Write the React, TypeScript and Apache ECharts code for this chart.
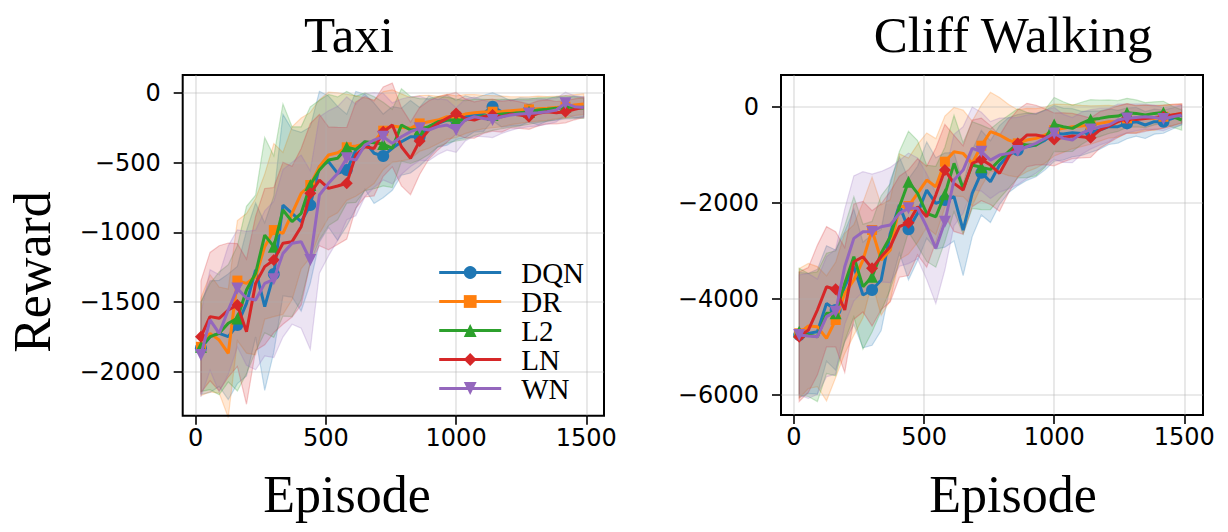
import React, { useEffect, useRef } from "react";
import * as echarts from "echarts";

// ---------- data ----------
const episodes = [20, 55, 90, 125, 160, 195, 230, 265, 300, 335, 370, 405, 440, 475, 510, 545, 580, 615, 650, 685, 720, 755, 790, 825, 860, 895, 930, 965, 1000, 1035, 1070, 1105, 1140, 1175, 1210, 1245, 1280, 1315, 1350, 1385, 1420, 1455, 1490];

const methods = ["DQN", "DR", "L2", "LN", "WN"];
const colors = ["#1f77b4", "#ff7f0e", "#2ca02c", "#d62728", "#9467bd"];
const symbols = ["circle", "rect", "triangle", "diamond", "triangle"];
const symbolRotates = [0, 0, 0, 0, 180];
const symbolSizes = [12, 10, 12, 12, 12];

const xTicks = [0, 500, 1000, 1500];
const taxiYTicks = [-2000, -1500, -1000, -500, 0];
const cliffYTicks = [-6000, -4000, -2000, 0];

// Taxi mean reward
const taxiDQN = [-1831, -1748, -1724, -1748, -1664, -1509, -1270, -1533, -1299, -805, -864, -924, -805, -530, -494, -578, -554, -411, -351, -434, -453, -399, -351, -315, -315, -243, -220, -196, -196, -172, -160, -148, -100, -136, -148, -136, -124, -136, -124, -112, -112, -105, -100];
const taxiDR = [-1820, -1724, -1772, -1867, -1346, -1366, -1318, -1103, -984, -1008, -864, -721, -661, -530, -446, -430, -391, -382, -368, -351, -272, -239, -248, -255, -220, -208, -196, -172, -172, -153, -143, -138, -136, -134, -129, -124, -119, -114, -112, -105, -100, -88, -81];
const taxiL2 = [-1820, -1748, -1724, -1652, -1617, -1414, -1294, -1020, -1103, -840, -924, -864, -661, -554, -482, -470, -391, -406, -351, -358, -368, -399, -231, -267, -262, -243, -208, -196, -196, -196, -177, -167, -160, -153, -148, -143, -136, -124, -119, -112, -100, -105, -112];
const taxiLN = [-1748, -1604, -1616, -1557, -1521, -1712, -1366, -1246, -1199, -1079, -1067, -960, -721, -626, -685, -668, -649, -446, -387, -399, -279, -231, -387, -470, -346, -267, -220, -184, -148, -184, -196, -172, -160, -172, -153, -160, -172, -148, -136, -143, -136, -119, -105];
const taxiWN = [-1879, -1628, -1724, -1557, -1402, -1473, -1485, -1366, -1337, -1151, -1079, -1067, -1199, -733, -649, -578, -470, -482, -375, -339, -315, -363, -315, -279, -255, -267, -243, -231, -267, -196, -172, -184, -196, -172, -160, -153, -148, -143, -136, -124, -76, -100, -105];

// Taxi half-width of shaded band
const taxiDQNSpread = [330, 400, 380, 450, 420, 520, 480, 600, 560, 650, 600, 640, 560, 540, 470, 480, 400, 420, 340, 360, 300, 300, 240, 260, 210, 220, 170, 180, 140, 150, 120, 130, 100, 110, 90, 100, 85, 95, 80, 85, 75, 80, 70];
const taxiDRSpread = [350, 420, 380, 460, 430, 500, 560, 520, 620, 580, 620, 540, 520, 480, 450, 430, 380, 360, 330, 300, 280, 260, 240, 220, 200, 190, 170, 160, 150, 140, 130, 120, 115, 110, 100, 95, 90, 90, 85, 80, 80, 75, 75];
const taxiL2Spread = [320, 380, 440, 420, 520, 600, 560, 700, 650, 760, 680, 620, 560, 500, 470, 440, 400, 380, 350, 330, 300, 280, 260, 240, 220, 200, 180, 165, 150, 140, 130, 120, 110, 105, 100, 95, 90, 88, 85, 80, 78, 75, 72];
const taxiLNSpread = [400, 460, 520, 480, 440, 520, 480, 560, 520, 580, 540, 560, 500, 470, 440, 420, 400, 380, 360, 340, 320, 300, 280, 260, 240, 210, 190, 170, 150, 140, 130, 120, 115, 110, 100, 95, 90, 90, 85, 80, 80, 75, 72];
const taxiWNSpread = [300, 360, 420, 460, 420, 480, 500, 520, 560, 600, 580, 620, 640, 560, 520, 480, 440, 400, 370, 340, 310, 290, 270, 250, 230, 220, 200, 180, 160, 150, 140, 130, 125, 120, 110, 100, 95, 95, 90, 85, 80, 78, 75];

// Cliff Walking mean reward
const cliffDQN = [-4750, -4716, -4681, -4092, -4230, -3745, -3329, -3918, -3814, -3606, -2635, -2046, -2552, -2219, -1734, -2011, -1942, -1873, -2566, -1803, -1373, -1560, -1214, -1006, -902, -832, -797, -694, -555, -569, -541, -555, -520, -485, -416, -416, -347, -312, -381, -312, -312, -243, -173];
const cliffDR = [-4716, -4563, -4577, -4820, -4438, -3884, -3606, -3190, -2566, -3190, -2982, -2081, -2067, -1803, -1526, -1664, -1144, -936, -971, -1179, -811, -520, -589, -694, -763, -694, -659, -589, -485, -451, -416, -402, -381, -347, -312, -312, -243, -264, -222, -243, -208, -173, -139];
const cliffL2 = [-4681, -4750, -4785, -4299, -4299, -3676, -3121, -3745, -3537, -3051, -2705, -2081, -1560, -1803, -2219, -2289, -1824, -1179, -1699, -1214, -1262, -1304, -1110, -936, -763, -797, -797, -659, -368, -416, -451, -347, -264, -243, -208, -194, -125, -139, -173, -139, -118, -208, -277];
const cliffLN = [-4785, -4647, -4230, -3745, -3800, -4230, -3225, -3121, -3363, -3121, -2913, -2497, -2413, -2081, -2289, -1838, -1318, -1595, -1734, -1179, -1096, -1214, -1387, -1040, -763, -589, -589, -624, -680, -638, -610, -624, -645, -485, -402, -312, -243, -264, -243, -222, -208, -173, -139];
const cliffWN = [-4750, -4771, -4785, -4369, -4265, -3329, -2739, -2601, -2601, -2497, -2462, -2219, -2115, -2115, -2497, -2947, -2393, -1526, -1318, -867, -936, -1110, -1006, -971, -922, -832, -763, -659, -555, -659, -694, -555, -472, -416, -381, -277, -243, -222, -208, -222, -257, -208, -173];

// Cliff Walking half-width of shaded band
const cliffDQNSpread = [1300, 1250, 1300, 1200, 1250, 1150, 1200, 1100, 1150, 1050, 1100, 1000, 1050, 980, 1000, 950, 980, 920, 950, 900, 880, 850, 820, 780, 740, 700, 660, 620, 580, 540, 500, 460, 430, 400, 370, 340, 320, 300, 280, 260, 240, 220, 200];
const cliffDRSpread = [1350, 1300, 1250, 1300, 1200, 1250, 1150, 1200, 1100, 1150, 1050, 1100, 1000, 1020, 980, 1000, 950, 920, 900, 880, 850, 820, 780, 740, 700, 660, 620, 580, 540, 500, 460, 430, 400, 370, 340, 320, 300, 280, 260, 250, 240, 220, 200];
const cliffL2Spread = [1320, 1280, 1350, 1250, 1300, 1200, 1250, 1300, 1150, 1200, 1100, 1150, 1050, 1100, 1000, 1050, 980, 1000, 950, 900, 880, 840, 800, 760, 720, 680, 640, 600, 560, 520, 480, 440, 410, 380, 350, 320, 300, 280, 260, 240, 230, 220, 210];
const cliffLNSpread = [1350, 1300, 1350, 1250, 1200, 1300, 1200, 1150, 1200, 1100, 1150, 1050, 1100, 1000, 1050, 980, 950, 1000, 920, 900, 860, 820, 790, 750, 700, 660, 620, 580, 550, 510, 470, 440, 410, 380, 350, 330, 310, 290, 270, 250, 240, 220, 200];
const cliffWNSpread = [1250, 1300, 1200, 1250, 1300, 1200, 1300, 1250, 1200, 1150, 1200, 1100, 1150, 1050, 1100, 1150, 1000, 950, 900, 860, 820, 800, 770, 740, 700, 660, 620, 580, 540, 500, 470, 440, 410, 380, 350, 330, 300, 280, 260, 250, 240, 220, 210];

const taxiMeans = [taxiDQN, taxiDR, taxiL2, taxiLN, taxiWN];
const taxiSpreads = [taxiDQNSpread, taxiDRSpread, taxiL2Spread, taxiLNSpread, taxiWNSpread];
const cliffMeans = [cliffDQN, cliffDR, cliffL2, cliffLN, cliffWN];
const cliffSpreads = [cliffDQNSpread, cliffDRSpread, cliffL2Spread, cliffLNSpread, cliffWNSpread];

// ---------- helpers ----------
const SERIF = '"Liberation Serif", "Times New Roman", serif';
const SANS = '"DejaVu Sans", sans-serif';
const LINE_W = 3;

function rgba(hex: string, a: number) {
  const n = parseInt(hex.slice(1), 16);
  return `rgba(${(n >> 16) & 255},${(n >> 8) & 255},${n & 255},${a})`;
}

function fmtTick(v: number) {
  return v < 0 ? "\u2212" + Math.abs(v) : String(v);
}

function bandSeries(idx: number, axis: number, mean: number[], spread: number[]) {
  const lo = mean.map((m, i) => m - spread[i]);
  const hi = mean.map((m, i) => m + spread[i]);
  return {
    type: "custom",
    name: methods[idx] + " band",
    xAxisIndex: axis,
    yAxisIndex: axis,
    z: -1,
    silent: true,
    data: episodes.map((e, i) => [e, lo[i], hi[i]]),
    encode: { x: 0, y: [1, 2] },
    renderItem: (params: any, api: any) => {
      if (params.dataIndex !== 0) return null;
      const pts: number[][] = [];
      for (let i = 0; i < episodes.length; i++) pts.push(api.coord([episodes[i], hi[i]]));
      for (let i = episodes.length - 1; i >= 0; i--) pts.push(api.coord([episodes[i], lo[i]]));
      return {
        type: "polygon",
        shape: { points: pts },
        style: { fill: rgba(colors[idx], 0.18), stroke: rgba(colors[idx], 0.24), lineWidth: 1.2 },
      };
    },
  };
}

function lineSeries(idx: number, axis: number, mean: number[]) {
  return {
    type: "line",
    name: methods[idx],
    xAxisIndex: axis,
    yAxisIndex: axis,
    z: 3 + idx,
    data: episodes.map((e, i) => [e, mean[i]]),
    symbol: symbols[idx],
    symbolRotate: symbolRotates[idx],
    symbolSize: (_v: any, p: any) => (p.dataIndex % 4 === 0 ? symbolSizes[idx] : 0),
    showSymbol: true,
    showAllSymbol: true,
    lineStyle: { color: colors[idx], width: LINE_W },
    itemStyle: { color: colors[idx], borderWidth: 0 },
    emphasis: { disabled: true },
  };
}

function xAxisDef(grid: number, min: number, max: number) {
  return {
    type: "value",
    gridIndex: grid,
    min,
    max,
    splitNumber: 4,
    axisLine: { show: false, onZero: false },
    axisTick: { show: true, length: 9, lineStyle: { color: "#000", width: 1.6 }, customValues: xTicks },
    axisLabel: { fontFamily: SANS, fontSize: 24, color: "#000", margin: 10, customValues: xTicks, formatter: fmtTick },
    splitLine: { show: true, lineStyle: { color: "rgba(176,176,176,0.35)", width: 1.6 }, customValues: xTicks },
  };
}

function yAxisDef(grid: number, min: number, max: number, split: number, ticks: number[]) {
  return {
    type: "value",
    gridIndex: grid,
    min,
    max,
    splitNumber: split,
    axisLine: { show: false, onZero: false },
    axisTick: { show: true, length: 9, lineStyle: { color: "#000", width: 1.6 }, customValues: ticks },
    axisLabel: { fontFamily: SANS, fontSize: 24, color: "#000", margin: 22, customValues: ticks, formatter: fmtTick },
    splitLine: { show: true, lineStyle: { color: "rgba(176,176,176,0.35)", width: 1.6 }, customValues: ticks },
  };
}

export default function App() {
  const ref = useRef<HTMLDivElement>(null);

  useEffect(() => {
    if (!ref.current) return;
    const chart = echarts.init(ref.current, undefined, { renderer: "svg" });

    const series: any[] = [];
    methods.forEach((_, i) => series.push(bandSeries(i, 0, taxiMeans[i], taxiSpreads[i])));
    methods.forEach((_, i) => series.push(bandSeries(i, 1, cliffMeans[i], cliffSpreads[i])));
    methods.forEach((_, i) => series.push(lineSeries(i, 0, taxiMeans[i])));
    methods.forEach((_, i) => series.push(lineSeries(i, 1, cliffMeans[i])));

    const option: any = {
      animation: false,
      backgroundColor: "#fff",
      grid: [
        { left: 182.7, top: 75, width: 421.3, height: 340.7, show: true, borderColor: "#000", borderWidth: 2, backgroundColor: "transparent", outerBoundsMode: "none" },
        { left: 781, top: 75, width: 422, height: 340, show: true, borderColor: "#000", borderWidth: 2, backgroundColor: "transparent", outerBoundsMode: "none" },
      ],
      xAxis: [xAxisDef(0, -50, 1568), xAxisDef(1, -50, 1572)],
      yAxis: [yAxisDef(0, -2314, 127, 5, taxiYTicks), yAxisDef(1, -6415, 660, 4, cliffYTicks)],
      legend: {
        data: methods,
        orient: "vertical",
        left: 432.7,
        top: 253,
        itemWidth: 62,
        itemHeight: 16,
        itemGap: 0,
        selectedMode: false,
        lineStyle: { width: LINE_W },
        textStyle: { fontFamily: SERIF, fontSize: 29, color: "#000", padding: [0, 0, 0, 15] },
      },
      graphic: [
        { type: "text", x: 349, y: 35, silent: true, style: { text: "Taxi", font: `51px ${SERIF}`, fill: "#000", textAlign: "center", textVerticalAlign: "middle" } },
        { type: "text", x: 1013, y: 35, silent: true, style: { text: "Cliff Walking", font: `51px ${SERIF}`, fill: "#000", textAlign: "center", textVerticalAlign: "middle" } },
        { type: "text", x: 347, y: 494, silent: true, style: { text: "Episode", font: `52px ${SERIF}`, fill: "#000", textAlign: "center", textVerticalAlign: "middle" } },
        { type: "text", x: 1013, y: 494, silent: true, style: { text: "Episode", font: `52px ${SERIF}`, fill: "#000", textAlign: "center", textVerticalAlign: "middle" } },
        { type: "text", x: 32, y: 272, rotation: Math.PI / 2, silent: true, style: { text: "Reward", font: `52px ${SERIF}`, fill: "#000", textAlign: "center", textVerticalAlign: "middle" } },
      ],
      series,
    };

    chart.setOption(option);
    return () => chart.dispose();
  }, []);

  return <div ref={ref} style={{ position: "fixed", left: 0, top: 0, width: 1228, height: 532 }} />;
}
